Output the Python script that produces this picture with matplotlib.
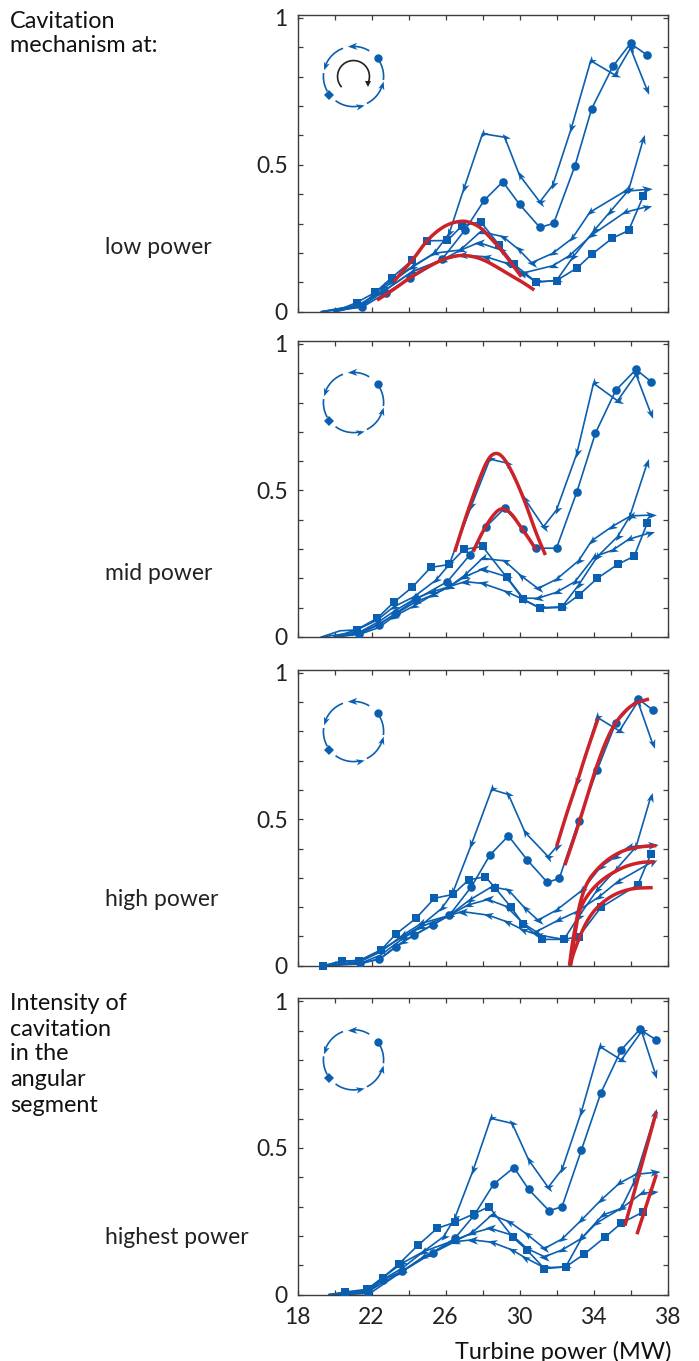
import numpy as np
import matplotlib
matplotlib.use("Agg")
import matplotlib.pyplot as plt
from matplotlib.path import Path
from matplotlib.transforms import Affine2D

plt.rcParams['font.family'] = ['Lato', 'DejaVu Sans']

BLUE = "#0a5fb0"
RED = "#cc2229"
DARK = "#3c3c3c"
YTOP = 1.01  # the printed axis runs a little past the 1 tick

# low power
low_top_x = [19.3,21.2,22.2,23.1,24.2,25.4,26.2,27.0,28.0,29.2,30.0,31.1,31.8,32.8,33.85,35.15,36.0,36.9]
low_top_y = [0,.02,.055,.10,.15,.197,.264,.416,.60,.588,.46,.37,.427,.618,.846,.798,.888,.747]
low_circ_x = [19.3,21.5,22.8,24.1,25.8,27.05,28.1,29.1,30.0,31.1,31.85,33.0,33.9,35.05,36.0,36.9]
low_circ_y = [0,.015,.064,.112,.176,.275,.376,.438,.362,.284,.298,.492,.684,.827,.904,.865]
low_sq_x = [20.0,21.2,22.2,23.1,24.2,25.0,26.1,26.9,27.9,28.9,29.7,30.9,32.0,33.1,33.9,35.0,35.9,36.7]
low_sq_y = [0,.031,.065,.115,.173,.239,.24,.29,.303,.225,.16,.100,.105,.147,.193,.247,.274,.39]
low_a_x = [20.0,21.5,22.5,24.2,25.8,26.9,28.2,29.3,30.2,30.9,32.0,32.9,34.05,34.9,35.9,36.7]
low_a_y = [0,.022,.062,.135,.174,.191,.185,.163,.129,.100,.105,.185,.275,.337,.41,.583]
low_b_x = [19.3,21.5,22.6,24.2,25.4,26.8,27.9,29.1,29.95,30.65,31.8,32.85,33.8,35.7,36.9]
low_b_y = [0,.025,.084,.152,.197,.208,.27,.253,.21,.165,.197,.247,.335,.406,.412]
low_c_x = [20.0,21.5,22.6,24.2,25.8,26.8,27.8,29.0,30.1,31.8,32.7,33.9,35.7,36.9]
low_c_y = [0,.019,.067,.135,.174,.207,.233,.208,.129,.155,.189,.258,.335,.354]

# mid power
mid_top_x = [19.3,20.3,21.2,22.3,23.2,24.3,25.5,26.2,27.4,28.4,29.3,30.3,31.3,32.0,33.1,34.0,35.3,36.3,37.1]
mid_top_y = [0,.021,.024,.057,.102,.136,.193,.245,.443,.601,.588,.465,.373,.429,.62,.857,.798,.887,.755]
mid_circ_x = [20.0,21.3,22.4,23.3,24.4,26.1,27.3,28.2,29.2,30.2,30.9,32.0,33.1,34.1,35.2,36.3,37.1]
mid_circ_y = [0,.01,.041,.08,.127,.187,.276,.373,.435,.365,.30,.30,.49,.688,.833,.904,.863]
mid_sq_x = [20.0,21.2,22.3,23.2,24.2,25.2,26.2,27.0,28.0,29.3,30.2,31.1,32.3,33.2,34.2,35.3,36.2,36.9]
mid_sq_y = [0,.025,.063,.117,.168,.235,.245,.296,.306,.202,.127,.097,.10,.141,.198,.245,.273,.384]
mid_a_x = [20.0,21.4,22.4,23.2,24.3,25.3,26.2,27.05,28.0,29.3,30.2,31.1,32.3,33.2,34.2,35.3,35.96,36.9]
mid_a_y = [0,.01,.032,.069,.105,.142,.17,.187,.181,.153,.127,.099,.102,.176,.271,.339,.407,.587]
mid_b_x = [19.3,21.4,22.4,23.2,24.4,25.3,26.2,27.05,28.0,29.2,30.1,31.0,32.0,33.2,33.9,35.0,36.0,37.1]
mid_b_y = [0,.018,.052,.086,.131,.153,.17,.209,.266,.257,.206,.164,.195,.258,.325,.373,.409,.412]
mid_c_x = [20.0,21.4,22.4,23.2,24.4,25.3,26.2,27.05,28.0,29.3,30.2,31.0,32.0,33.0,34.05,35.05,35.9,37.05]
mid_c_y = [0,.015,.044,.074,.119,.142,.17,.204,.229,.204,.131,.131,.151,.187,.271,.294,.33,.352]

# high power
high_top_x = [19.4,20.4,21.4,22.5,23.7,24.6,25.8,26.4,27.4,28.5,29.4,30.3,31.55,32.0,33.1,34.2,35.4,36.4,37.2]
high_top_y = [0,.014,.019,.053,.098,.132,.194,.248,.41,.596,.579,.451,.369,.402,.62,.84,.794,.893,.75]
high_circ_x = [19.4,21.4,22.4,23.3,24.3,25.3,26.2,27.4,28.4,29.4,30.4,31.5,32.15,33.2,34.2,35.2,36.4,37.2]
high_circ_y = [0,.01,.021,.064,.104,.138,.17,.267,.374,.439,.359,.282,.295,.49,.662,.82,.903,.865]
high_sq_x = [19.4,20.4,21.3,22.5,23.3,24.4,25.4,26.4,27.25,28.15,28.7,29.55,30.2,31.2,32.4,33.2,34.4,36.4,37.1]
high_sq_y = [0,.016,.016,.052,.106,.16,.228,.241,.29,.301,.262,.197,.14,.089,.089,.098,.197,.274,.377]
high_a_x = [19.4,21.4,22.5,23.7,25.3,26.2,26.9,28.3,29.3,30.2,31.0,32.4,33.2,34.2,35.2,36.3,37.1]
high_a_y = [0,.006,.025,.081,.138,.17,.183,.171,.149,.121,.104,.089,.166,.256,.324,.402,.572]
high_b_x = [19.4,21.4,22.5,23.7,24.7,26.2,27.3,28.5,29.4,30.3,31.0,32.0,33.4,34.4,35.2,35.9,37.2]
high_b_y = [0,.014,.047,.104,.143,.17,.222,.267,.256,.194,.154,.188,.256,.335,.369,.402,.408]
high_c_x = [19.4,21.4,22.5,23.7,24.7,26.2,27.2,28.3,29.3,30.2,30.9,32.1,33.1,34.3,35.3,37.2]
high_c_y = [0,.008,.036,.092,.132,.17,.205,.224,.2,.143,.115,.154,.183,.233,.284,.352]

# highest power
top_top_x = [19.7,21.75,22.55,23.65,24.8,25.9,26.5,27.5,28.45,29.6,30.5,31.55,32.3,33.35,34.35,35.5,36.6,37.35]
top_top_y = [0,.016,.055,.106,.145,.196,.258,.421,.595,.578,.454,.362,.423,.618,.837,.792,.888,.744]
top_circ_x = [20.6,21.8,22.6,23.65,25.3,26.5,27.55,28.6,29.7,30.5,31.6,32.3,33.35,34.4,35.5,36.5,37.4]
top_circ_y = [0,.008,.049,.08,.142,.19,.268,.373,.429,.355,.283,.297,.489,.681,.826,.895,.859]
top_sq_x = [19.7,20.55,21.75,22.6,23.5,24.5,25.55,26.5,27.55,28.35,29.65,30.4,31.35,32.5,33.5,34.6,35.5,36.7]
top_sq_y = [0,.009,.018,.057,.105,.166,.224,.244,.273,.297,.193,.151,.088,.094,.137,.193,.241,.28]
top_a_x = [19.7,21.9,23.5,25.1,26.5,27.45,28.5,29.6,30.3,31.35,32.5,33.35,34.15,35.5,36.2,37.35]
top_a_y = [0,.004,.072,.134,.179,.185,.177,.151,.125,.091,.094,.19,.241,.292,.381,.612]
top_b_x = [19.7,21.75,22.55,23.65,24.8,26.5,27.4,28.5,29.45,30.4,31.35,32.3,33.35,34.4,35.4,36.3,37.35]
top_b_y = [0,.012,.049,.089,.145,.184,.207,.269,.246,.204,.156,.188,.252,.319,.376,.406,.413]
top_c_x = [20.0,21.75,22.55,23.65,24.8,26.5,27.4,28.4,29.6,30.4,31.35,32.3,33.35,34.5,35.5,36.6,37.2]
top_c_y = [0,.008,.038,.078,.128,.181,.207,.224,.201,.156,.128,.151,.19,.269,.291,.342,.346]

# red mechanism curves
low_red = [([23.2,23.7,24.3,24.9,25.5,26.15,26.9,27.4,27.9,28.4,29.0,29.6,30.1],
            [.101,.138,.18,.233,.27,.296,.307,.3,.284,.251,.21,.16,.118]),
           ([22.3,23.2,24.1,25.0,25.7,26.3,26.9,27.6,28.2,28.9,29.7,30.2,30.8],
            [.039,.075,.116,.149,.172,.185,.191,.185,.171,.146,.116,.098,.073])]
mid_red = [([26.5,27.1,27.8,28.3,28.7,29.1,29.65,30.3,30.9,31.4],
            [.288,.407,.53,.604,.624,.611,.553,.457,.35,.277]),
           ([27.5,27.95,28.5,29.0,29.5,30.0,30.5,30.9],
            [.288,.35,.407,.438,.423,.378,.333,.294])]
high_red = [([32.0,32.55,33.1,33.6,34.25], [.402,.515,.617,.718,.836]),
            ([32.45,33.1,33.6,34.15,34.8,35.4,36.15,37.0], [.34,.459,.56,.673,.78,.842,.887,.902]),
            ([32.7,32.9,33.45,34.35,35.4,36.4,37.4], [0,.098,.267,.34,.386,.402,.406]),
            ([32.75,33.0,33.25,34.15,35.4,36.4,37.3], [0,.109,.2,.278,.329,.349,.352]),
            ([32.75,32.9,33.7,34.8,36.0,37.2], [0,.042,.166,.233,.262,.264])]
top_red = [([35.7,37.4], [.233,.618]), ([36.35,37.4], [.204,.406])]

panel_labels = ["low power", "mid power", "high power", "highest power"]
xtick_labels = ["18", "", "22", "", "26", "", "30", "", "34", "", "38"]
ytick_labels = ["0", "", "", "", "", "0.5", "", "", "", "", "1"]

W, H = 699, 1361
fig = plt.figure(figsize=(W / 100, H / 100), dpi=100)

# barbed arrowhead, points along +x
head = Path([(1, 0), (-1, .75), (-.45, 0), (-1, -.75), (1, 0)], closed=True)


def add_axes_px(x0, y0, x1, y1):
    return fig.add_axes([x0 / W, 1 - y1 / H, (x1 - x0) / W, (y1 - y0) / H])


def smooth(xs, ys):
    # rounds the corners of a drawn curve, ends stay put
    p = np.column_stack([xs, ys])
    for _ in range(3):
        q = [p[0]]
        for a, b in zip(p[:-1], p[1:]):
            q += [a * .75 + b * .25, a * .25 + b * .75]
        q.append(p[-1])
        p = np.array(q)
    return p[:, 0], p[:, 1]


def arrow_line(ax, xs, ys):
    ys = np.array(ys) * YTOP
    ax.plot(xs, ys, color=BLUE, lw=1.2, zorder=2, clip_on=False)
    pts = ax.transData.transform(np.column_stack([xs, ys]))
    for i in range(1, len(pts)):
        if ys[i] < .06:
            continue
        if i == len(pts) - 1:
            d = pts[i] - pts[i - 1]
        else:
            d = pts[i - 1] - pts[i + 1]
        m = head.transformed(Affine2D().rotate(np.arctan2(d[1], d[0])))
        ax.plot([xs[i]], [ys[i]], marker=m, ms=8, color=BLUE, mew=0, zorder=3)


def draw_inset(y_top, with_black):
    ins = add_axes_px(318, y_top + 26, 389, y_top + 97)
    ins.set_xlim(-1.18, 1.18)
    ins.set_ylim(-1.18, 1.18)
    ins.axis("off")
    arcs = [(-5, 30), (60, 92), (112, 160), (175, 208), (235, 283), (298, 343)]
    for k, (a, b) in enumerate(arcs):
        t = np.radians(np.linspace(a, b, 30))
        ins.plot(np.cos(t), np.sin(t), color=BLUE, lw=1.2)
        if k in (1, 2, 4, 5):
            e = np.radians(b)
            m = head.transformed(Affine2D().rotate(e + np.pi / 2))
            ins.plot([np.cos(e)], [np.sin(e)], marker=m, ms=7, color=BLUE, mew=0)
    ins.plot([np.cos(np.radians(37))], [np.sin(np.radians(37))], "o", color=BLUE, ms=6, mew=0)
    ins.plot([np.cos(np.radians(217))], [np.sin(np.radians(217))], "D", color=BLUE, ms=4.8, mew=0)
    if with_black:
        t = np.radians(np.linspace(219, -28, 60))
        ins.plot(.53 * np.cos(t), .53 * np.sin(t), color="#222222", lw=1.2)
        ins.plot([.53 * np.cos(t[-1])], [.53 * np.sin(t[-1])], marker="v", color="#222222", ms=4, mew=0)


panels = [
    (15, 311.7, low_top_x, low_top_y, low_circ_x, low_circ_y, low_sq_x, low_sq_y,
     low_a_x, low_a_y, low_b_x, low_b_y, low_c_x, low_c_y, low_red),
    (341, 637, mid_top_x, mid_top_y, mid_circ_x, mid_circ_y, mid_sq_x, mid_sq_y,
     mid_a_x, mid_a_y, mid_b_x, mid_b_y, mid_c_x, mid_c_y, mid_red),
    (670, 965.7, high_top_x, high_top_y, high_circ_x, high_circ_y, high_sq_x, high_sq_y,
     high_a_x, high_a_y, high_b_x, high_b_y, high_c_x, high_c_y, high_red),
    (998.3, 1294.7, top_top_x, top_top_y, top_circ_x, top_circ_y, top_sq_x, top_sq_y,
     top_a_x, top_a_y, top_b_x, top_b_y, top_c_x, top_c_y, top_red),
]
label_y = [247, 574, 900, 1237]

for n, p in enumerate(panels):
    y0, y1, tx, ty, cx, cy, sx, sy, ax_, ay, bx, by, c_x, c_y, reds = p
    ax = add_axes_px(297.5, y0, 667.5, y1)
    ax.set_xlim(18, 38)
    ax.set_ylim(0, YTOP)

    for xs, ys in [(tx, ty), (ax_, ay), (bx, by), (c_x, c_y)]:
        arrow_line(ax, xs, ys)
    cy = np.array(cy) * YTOP
    sy = np.array(sy) * YTOP
    ax.plot(cx, cy, color=BLUE, lw=1.2, zorder=2)
    ax.plot(cx[1:], cy[1:], "o", color=BLUE, ms=6.2, mew=0, zorder=3)
    ax.plot(sx, sy, color=BLUE, lw=1.2, zorder=2)
    s0 = 0 if n == 2 else 1
    ax.plot(sx[s0:], sy[s0:], "s", color=BLUE, ms=5.8, mew=0, zorder=3, clip_on=False)
    for xs, ys in reds:
        rx, ry = smooth(xs, np.array(ys) * YTOP)
        ax.plot(rx, ry, color=RED, lw=2.5, zorder=4, solid_capstyle="butt")

    ax.set_xticks(np.arange(18, 39, 2))
    ax.set_yticks(np.arange(0, 1.01, .1))
    ax.tick_params(direction="in", length=3.5, width=.9, color=DARK, top=True, right=True,
                   labelsize=16.5, labelcolor="#222222", pad=7)
    ax.tick_params(axis="x", pad=9)
    ax.set_yticklabels(ytick_labels)
    if n == 3:
        ax.set_xticklabels(xtick_labels)
    else:
        ax.set_xticklabels([])
    for sp in ax.spines.values():
        sp.set_color(DARK)
        sp.set_linewidth(1.0)

    draw_inset(y0, n == 0)
    fig.text(105 / W, 1 - label_y[n] / H, panel_labels[n], fontsize=16.5, color="#222222",
             ha="left", va="center")

for t, y in [("Cavitation", 21), ("mechanism at:", 45), ("Intensity of", 1004),
             ("cavitation", 1029), ("in the", 1054), ("angular", 1079), ("segment", 1105)]:
    fig.text(10 / W, 1 - y / H, t, fontsize=16.8, color="#111111", ha="left", va="center")

fig.text(671 / W, 1 - 1352 / H, "Turbine power (MW)", fontsize=16.9, color="#111111",
         ha="right", va="center")

fig.savefig("out.png", dpi=100)
